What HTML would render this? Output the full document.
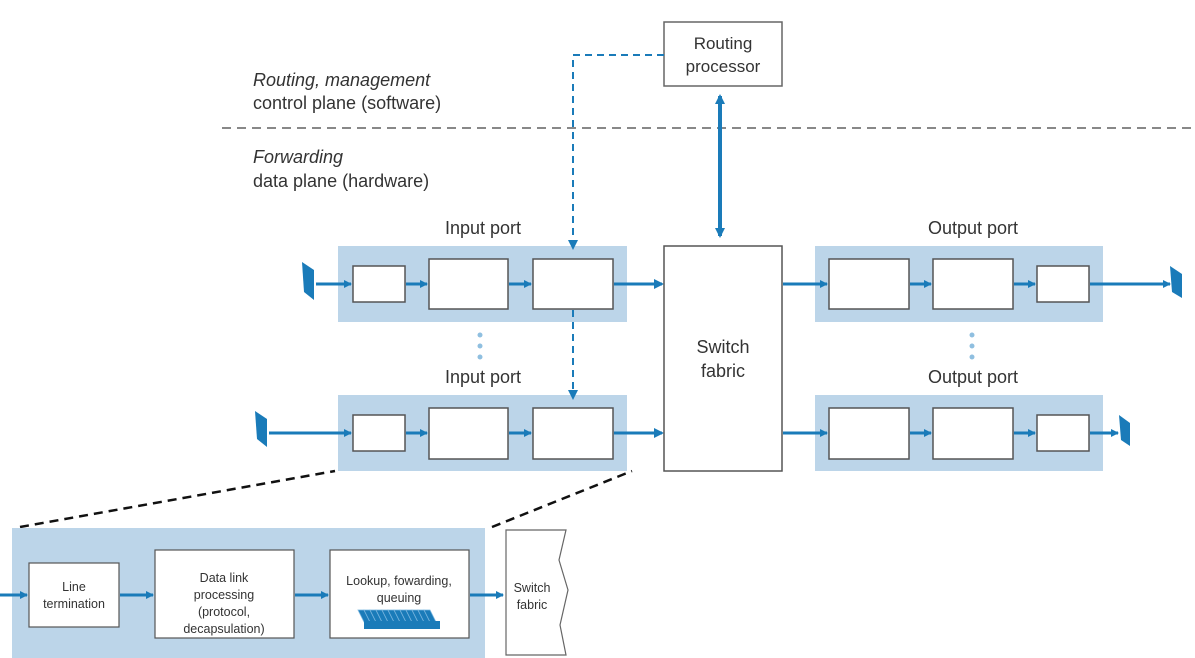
<!DOCTYPE html>
<html><head><meta charset="utf-8"><style>
html,body{margin:0;padding:0;background:#fff;}
svg{display:block;}
text{font-family:"Liberation Sans",sans-serif;fill:#333;}
</style></head><body>
<svg width="1195" height="658" viewBox="0 0 1195 658" xmlns="http://www.w3.org/2000/svg">
<defs>
<marker id="ah" markerWidth="10" markerHeight="10" refX="8" refY="5" orient="auto" markerUnits="userSpaceOnUse"><path d="M0,0 L10,5 L0,10 Z" fill="#1a7bb9"/></marker>
<marker id="ahs" markerWidth="8" markerHeight="8" refX="7" refY="4" orient="auto" markerUnits="userSpaceOnUse"><path d="M0,0 L8,4 L0,8 Z" fill="#1a7bb9"/></marker>
<marker id="ahr" markerWidth="10" markerHeight="10" refX="2" refY="5" orient="auto" markerUnits="userSpaceOnUse"><path d="M10,0 L0,5 L10,10 Z" fill="#1a7bb9"/></marker>
</defs>

<text x="253" y="86" font-size="18" font-style="italic">Routing, management</text>
<text x="253" y="109" font-size="18">control plane (software)</text>
<line x1="222" y1="128" x2="1192" y2="128" stroke="#888" stroke-width="2" stroke-dasharray="9,6"/>
<text x="253" y="163" font-size="18" font-style="italic">Forwarding</text>
<text x="253" y="187" font-size="18">data plane (hardware)</text>

<rect x="664" y="22" width="118" height="64" fill="#fff" stroke="#666" stroke-width="1.5"/>
<text x="723" y="49" font-size="17" text-anchor="middle">Routing</text>
<text x="723" y="72" font-size="17" text-anchor="middle">processor</text>
<line x1="720" y1="96" x2="720" y2="236" stroke="#1a7bb9" stroke-width="4" marker-start="url(#ahr)" marker-end="url(#ah)"/>

<text x="483" y="234" font-size="18" text-anchor="middle">Input port</text>
<text x="483" y="383" font-size="18" text-anchor="middle">Input port</text>
<text x="973" y="234" font-size="18" text-anchor="middle">Output port</text>
<text x="973" y="383" font-size="18" text-anchor="middle">Output port</text>
<g fill="#8fbfe0"><circle cx="480" cy="335" r="2.5"/><circle cx="480" cy="346" r="2.5"/><circle cx="480" cy="357" r="2.5"/>
<circle cx="972" cy="335" r="2.5"/><circle cx="972" cy="346" r="2.5"/><circle cx="972" cy="357" r="2.5"/></g>

<g>
<rect x="338" y="246" width="289" height="76" fill="#bcd5e9"/>
<rect x="353" y="266" width="52" height="36" fill="#fff" stroke="#555" stroke-width="1.5"/>
<rect x="429" y="259" width="79" height="50" fill="#fff" stroke="#555" stroke-width="1.5"/>
<rect x="533" y="259" width="80" height="50" fill="#fff" stroke="#555" stroke-width="1.5"/>
<path d="M302,262 L314,270 L314,300 L304,292 Z" fill="#1a7bb9"/>
<line x1="316" y1="284" x2="351" y2="284" stroke="#1a7bb9" stroke-width="3" marker-end="url(#ahs)"/>
<line x1="406" y1="284" x2="427" y2="284" stroke="#1a7bb9" stroke-width="3" marker-end="url(#ahs)"/>
<line x1="509" y1="284" x2="531" y2="284" stroke="#1a7bb9" stroke-width="3" marker-end="url(#ahs)"/>
<line x1="614" y1="284" x2="662" y2="284" stroke="#1a7bb9" stroke-width="3" marker-end="url(#ah)"/>
</g>
<g>
<rect x="338" y="395" width="289" height="76" fill="#bcd5e9"/>
<rect x="353" y="415" width="52" height="36" fill="#fff" stroke="#555" stroke-width="1.5"/>
<rect x="429" y="408" width="79" height="51" fill="#fff" stroke="#555" stroke-width="1.5"/>
<rect x="533" y="408" width="80" height="51" fill="#fff" stroke="#555" stroke-width="1.5"/>
<path d="M255,411 L267,419 L267,447 L257,439 Z" fill="#1a7bb9"/>
<line x1="269" y1="433" x2="351" y2="433" stroke="#1a7bb9" stroke-width="3" marker-end="url(#ahs)"/>
<line x1="406" y1="433" x2="427" y2="433" stroke="#1a7bb9" stroke-width="3" marker-end="url(#ahs)"/>
<line x1="509" y1="433" x2="531" y2="433" stroke="#1a7bb9" stroke-width="3" marker-end="url(#ahs)"/>
<line x1="614" y1="433" x2="662" y2="433" stroke="#1a7bb9" stroke-width="3" marker-end="url(#ah)"/>
</g>

<path d="M664,55 H573 V248" fill="none" stroke="#1a7bb9" stroke-width="2" stroke-dasharray="7,5" marker-end="url(#ah)"/>
<path d="M573,310 V398" fill="none" stroke="#1a7bb9" stroke-width="2" stroke-dasharray="7,5" marker-end="url(#ah)"/>

<rect x="664" y="246" width="118" height="225" fill="#fff" stroke="#555" stroke-width="1.5"/>
<text x="723" y="353" font-size="18" text-anchor="middle">Switch</text>
<text x="723" y="377" font-size="18" text-anchor="middle">fabric</text>

<g>
<rect x="815" y="246" width="288" height="76" fill="#bcd5e9"/>
<rect x="829" y="259" width="80" height="50" fill="#fff" stroke="#555" stroke-width="1.5"/>
<rect x="933" y="259" width="80" height="50" fill="#fff" stroke="#555" stroke-width="1.5"/>
<rect x="1037" y="266" width="52" height="36" fill="#fff" stroke="#555" stroke-width="1.5"/>
<line x1="783" y1="284" x2="827" y2="284" stroke="#1a7bb9" stroke-width="3" marker-end="url(#ahs)"/>
<line x1="910" y1="284" x2="931" y2="284" stroke="#1a7bb9" stroke-width="3" marker-end="url(#ahs)"/>
<line x1="1014" y1="284" x2="1035" y2="284" stroke="#1a7bb9" stroke-width="3" marker-end="url(#ahs)"/>
<line x1="1090" y1="284" x2="1170" y2="284" stroke="#1a7bb9" stroke-width="3" marker-end="url(#ahs)"/>
<path d="M1170,266 L1182,274 L1182,298 L1172,292 Z" fill="#1a7bb9"/>
</g>
<g>
<rect x="815" y="395" width="288" height="76" fill="#bcd5e9"/>
<rect x="829" y="408" width="80" height="51" fill="#fff" stroke="#555" stroke-width="1.5"/>
<rect x="933" y="408" width="80" height="51" fill="#fff" stroke="#555" stroke-width="1.5"/>
<rect x="1037" y="415" width="52" height="36" fill="#fff" stroke="#555" stroke-width="1.5"/>
<line x1="783" y1="433" x2="827" y2="433" stroke="#1a7bb9" stroke-width="3" marker-end="url(#ahs)"/>
<line x1="910" y1="433" x2="931" y2="433" stroke="#1a7bb9" stroke-width="3" marker-end="url(#ahs)"/>
<line x1="1014" y1="433" x2="1035" y2="433" stroke="#1a7bb9" stroke-width="3" marker-end="url(#ahs)"/>
<line x1="1090" y1="433" x2="1118" y2="433" stroke="#1a7bb9" stroke-width="3" marker-end="url(#ahs)"/>
<path d="M1119,415 L1130,423 L1130,446 L1121,440 Z" fill="#1a7bb9"/>
</g>

<line x1="20" y1="527" x2="335" y2="471" stroke="#111" stroke-width="2.5" stroke-dasharray="9,6"/>
<line x1="492" y1="527" x2="632" y2="471" stroke="#111" stroke-width="2.5" stroke-dasharray="9,6"/>

<rect x="12" y="528" width="473" height="130" fill="#bcd5e9"/>
<rect x="29" y="563" width="90" height="64" fill="#fff" stroke="#555" stroke-width="1.2"/>
<text x="74" y="591" font-size="12.5" text-anchor="middle">Line</text>
<text x="74" y="608" font-size="12.5" text-anchor="middle">termination</text>
<rect x="155" y="550" width="139" height="88" fill="#fff" stroke="#555" stroke-width="1.2"/>
<text x="224" y="582" font-size="12.5" text-anchor="middle">Data link</text>
<text x="224" y="599" font-size="12.5" text-anchor="middle">processing</text>
<text x="224" y="616" font-size="12.5" text-anchor="middle">(protocol,</text>
<text x="224" y="633" font-size="12.5" text-anchor="middle">decapsulation)</text>
<rect x="330" y="550" width="139" height="88" fill="#fff" stroke="#555" stroke-width="1.2"/>
<text x="399" y="585" font-size="12.5" text-anchor="middle">Lookup, fowarding,</text>
<text x="399" y="602" font-size="12.5" text-anchor="middle">queuing</text>
<g fill="#1a7bb9" stroke="#7ab6df" stroke-width="0.8">
<path d="M358,610 L364,610 L370,622 L364,622 Z"/>
<path d="M364,610 L370,610 L376,622 L370,622 Z"/>
<path d="M370,610 L376,610 L382,622 L376,622 Z"/>
<path d="M376,610 L382,610 L388,622 L382,622 Z"/>
<path d="M382,610 L388,610 L394,622 L388,622 Z"/>
<path d="M388,610 L394,610 L400,622 L394,622 Z"/>
<path d="M394,610 L400,610 L406,622 L400,622 Z"/>
<path d="M400,610 L406,610 L412,622 L406,622 Z"/>
<path d="M406,610 L412,610 L418,622 L412,622 Z"/>
<path d="M412,610 L418,610 L424,622 L418,622 Z"/>
<path d="M418,610 L424,610 L430,622 L424,622 Z"/>
<path d="M424,610 L430,610 L436,622 L430,622 Z"/>
<rect x="364" y="621" width="76" height="8" stroke="none"/>
</g>
<line x1="0" y1="595" x2="27" y2="595" stroke="#1a7bb9" stroke-width="3" marker-end="url(#ahs)"/>
<line x1="120" y1="595" x2="153" y2="595" stroke="#1a7bb9" stroke-width="3" marker-end="url(#ahs)"/>
<line x1="295" y1="595" x2="328" y2="595" stroke="#1a7bb9" stroke-width="3" marker-end="url(#ahs)"/>
<line x1="470" y1="595" x2="503" y2="595" stroke="#1a7bb9" stroke-width="3" marker-end="url(#ahs)"/>
<path d="M506,530 L566,530 L559,560 L568,590 L560,625 L566,655 L506,655 Z" fill="#fff" stroke="#666" stroke-width="1.2"/>
<text x="532" y="592" font-size="12.5" text-anchor="middle">Switch</text>
<text x="532" y="609" font-size="12.5" text-anchor="middle">fabric</text>
</svg>
</body></html>
